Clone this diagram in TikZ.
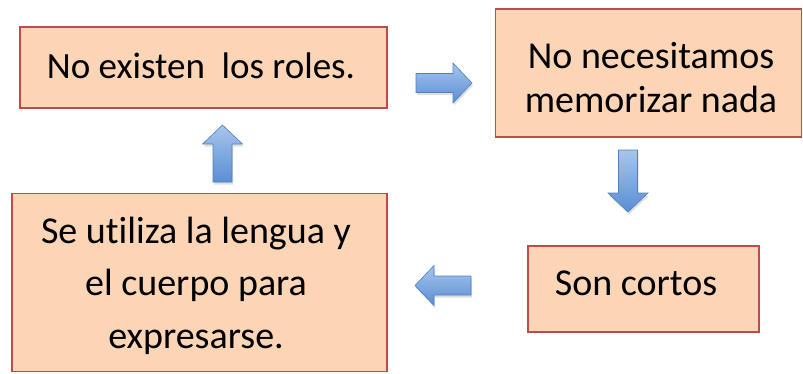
\documentclass[tikz,border=0pt]{standalone}
\usepackage{fontspec}
\setmainfont{Carlito}[Ligatures=NoCommon]
\usepackage{tikz}
\usetikzlibrary{shadows}
\usepackage{xcolor}
\definecolor{boxfill}{HTML}{FBD5B5}
\definecolor{boxline}{HTML}{BE4B48}
\definecolor{arrlight}{HTML}{A7C5EC}
\definecolor{arrdark}{HTML}{5A8ED4}
\definecolor{arrline}{HTML}{4F81BD}

\begin{document}
\begin{tikzpicture}[
  x=1pt, y=-1pt,
  idea/.style={draw=boxline, line width=1.3pt, fill=boxfill, inner sep=0pt},
  txt/.style={align=center, inner sep=0pt, anchor=base},
  arrowbody/.style={draw=arrline, line width=0.6pt,
    top color=arrlight, bottom color=arrdark,
    drop shadow={shadow xshift=1pt, shadow yshift=-2.5pt, opacity=0.25}},
  pics/blockarr/.style={code={
    \draw[arrowbody] (-#1/2,-9.5) -- (#1/2-19,-9.5) -- (#1/2-19,-20)
      -- (#1/2,0) -- (#1/2-19,20) -- (#1/2-19,9.5) -- (-#1/2,9.5) -- cycle;
  }}
]
\useasboundingbox (0,0) rectangle (803,373);

% ==================
% Boxes
% ==================
\node[idea, minimum width=367pt, minimum height=81pt] (roles) at (203.5,67.5) {};
\node[idea, minimum width=306pt, minimum height=128pt] (memo) at (648.5,73) {};
\node[idea, minimum width=231pt, minimum height=86pt] (cortos) at (643.5,289) {};
\node[idea, minimum width=375pt, minimum height=178pt] (lengua) at (199.5,282.5) {};

% ==================
% Texts (placed on the last baseline)
% ==================
\node[txt, font=\fontsize{37}{44}\selectfont] (rolesT) at (201,78)
  {No existen\ \ los roles.};
\node[txt, font=\fontsize{38}{44}\selectfont] (memoT) at (651,112)
  {No necesitamos\\memorizar nada};
\node[txt, font=\fontsize{38}{44}\selectfont] (cortosT) at (636,295)
  {Son cortos};
\node[txt, font=\fontsize{38}{52.5}\selectfont] (lenguaT) at (196,348)
  {Se utiliza la lengua y\\el cuerpo para\\expresarse.};

% ==================
% Block arrows
% ==================
\pic (aR) at (444,83) {blockarr=56};
\pic[rotate=270] (aD) at (628,181) {blockarr=62};
\pic[rotate=180] (aL) at (443,285.5) {blockarr=56};
\pic[rotate=90] (aU) at (222.5,153.5) {blockarr=57};
\end{tikzpicture}
\end{document}
